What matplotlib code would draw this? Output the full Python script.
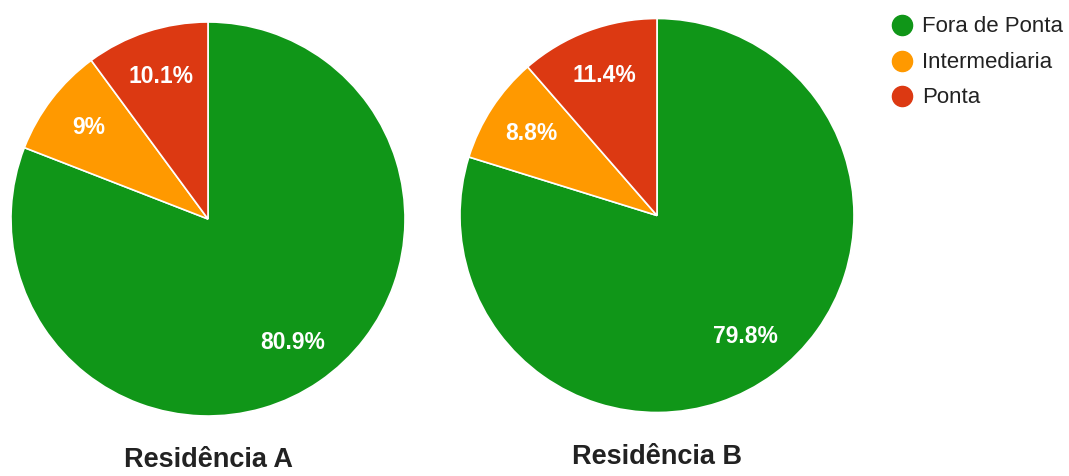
import matplotlib
matplotlib.use("Agg")
import matplotlib.pyplot as plt
from matplotlib.lines import Line2D

plt.rcParams['font.family'] = ['Liberation Sans', 'DejaVu Sans']

categories = ["Fora de Ponta", "Intermediaria", "Ponta"]
residencia_a = [80.9, 9.0, 10.1]
residencia_b = [79.8, 8.8, 11.4]
titles = ["Residência A", "Residência B"]
colors = ["#109618", "#FF9900", "#DC3912"]

W, H = 1069, 476
fig = plt.figure(figsize=(W / 100, H / 100), dpi=100)


def fmt_pct(p):
    s = f"{p:.1f}"
    return (s[:-2] if s.endswith(".0") else s) + "%"


def add_pie(cx, cy, r, values, title, title_base):
    ax = fig.add_axes([(cx - r) / W, 1 - (cy + r) / H, 2 * r / W, 2 * r / H])
    ax.pie(values, colors=colors, startangle=90, counterclock=False,
           radius=1.0, autopct=fmt_pct, pctdistance=0.76,
           wedgeprops=dict(edgecolor="white", linewidth=1.2),
           textprops=dict(color="white", fontsize=16.5, fontweight="bold"))
    ax.set_xlim(-1, 1)
    ax.set_ylim(-1, 1)
    ax.set_aspect("equal")
    ax.axis("off")
    fig.text(cx / W, 1 - title_base / H, title, ha="center", va="baseline",
             fontsize=19.5, fontweight="bold", color="#222222")


add_pie(208, 219, 197, residencia_a, titles[0], 467)
add_pie(657, 215.5, 197, residencia_b, titles[1], 464)

# legend entries: circle marker + label
legend_x, legend_y0, legend_step = 902, 25, 35.5
for i, (name, c) in enumerate(zip(categories, colors)):
    y = 1 - (legend_y0 + i * legend_step) / H
    fig.add_artist(Line2D([legend_x / W], [y], transform=fig.transFigure,
                          marker="o", linestyle="", markersize=14.5,
                          markerfacecolor=c, markeredgecolor=c))
    fig.text((legend_x + 20) / W, y - 2 / H, name, ha="left", va="center",
             fontsize=16, color="#222222")

fig.savefig("out.png", dpi=100)
